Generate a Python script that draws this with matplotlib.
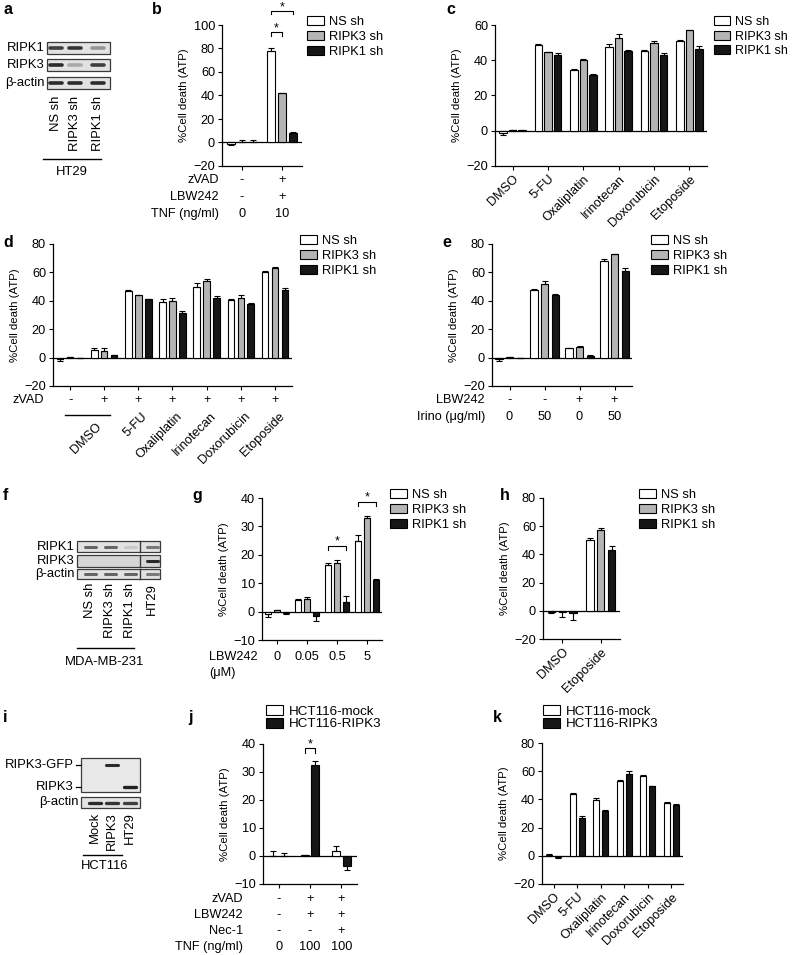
import numpy as np
import matplotlib
matplotlib.use('Agg')
import matplotlib.pyplot as plt
from matplotlib.patches import Patch, Rectangle
from matplotlib.transforms import blended_transform_factory as btf

# ---------------- data ----------------
sh_labels = ['NS sh', 'RIPK3 sh', 'RIPK1 sh']
hct_labels = ['HCT116-mock', 'HCT116-RIPK3']
drugs = ['DMSO', '5-FU', 'Oxaliplatin', 'Irinotecan', 'Doxorubicin', 'Etoposide']
d_drugs = ['5-FU', 'Oxaliplatin', 'Irinotecan', 'Doxorubicin', 'Etoposide']

# b: TNF 0 / 10
b_ns = [-1.0, 78.0]; b_ns_err = [1.0, 2.0]
b_r3 = [0.5, 42.0]; b_r3_err = [2.0, 0.5]
b_r1 = [0.5, 8.0]; b_r1_err = [1.5, 1.0]
b_zvad = ['-', '+']; b_lbw = ['-', '+']; b_tnf = ['0', '10']

# c
c_ns = [-1.0, 48.4, 34.2, 47.8, 45.0, 50.7]; c_ns_err = [1.5, 0.8, 0.8, 1.5, 0.8, 0.8]
c_r3 = [0.2, 44.4, 40.1, 52.6, 49.7, 56.9]; c_r3_err = [0.3, 0.5, 0.8, 2.5, 1.5, 0.5]
c_r1 = [0.2, 43.1, 31.8, 45.4, 43.1, 46.3]; c_r1_err = [0.3, 0.8, 0.5, 0.5, 1.0, 2.0]

# d
d_ns = [-1.0, 5.2, 47.0, 39.2, 50.0, 40.4, 60.3]; d_ns_err = [1.5, 1.5, 0.5, 2.0, 2.5, 0.8, 0.8]
d_r3 = [0.3, 4.7, 43.9, 39.7, 54.0, 42.3, 63.1]; d_r3_err = [0.3, 2.0, 0.5, 2.0, 1.5, 1.5, 0.8]
d_r1 = [0.0, 1.6, 41.0, 31.7, 42.3, 37.6, 47.4]; d_r1_err = [0.0, 0.5, 0.5, 0.8, 0.8, 0.5, 1.5]
d_zvad = ['-', '+', '+', '+', '+', '+', '+']

# e
e_ns = [-1.0, 47.4, 6.8, 67.8]; e_ns_err = [1.5, 0.8, 0.3, 1.5]
e_r3 = [0.3, 51.6, 7.5, 72.8]; e_r3_err = [0.3, 2.0, 0.8, 0.5]
e_r1 = [0.0, 44.4, 1.2, 60.8]; e_r1_err = [0.0, 0.5, 0.3, 2.0]
e_lbw = ['-', '-', '+', '+']; e_irino = ['0', '50', '0', '50']

# g
g_ns = [-0.8, 4.1, 16.5, 24.8]; g_ns_err = [1.0, 0.4, 0.5, 2.0]
g_r3 = [0.4, 4.3, 17.0, 33.1]; g_r3_err = [0.3, 0.8, 1.0, 0.5]
g_r1 = [-0.4, -1.5, 3.5, 11.1]; g_r1_err = [0.3, 1.8, 2.0, 0.3]
g_lbw = ['0', '0.05', '0.5', '5']

# h
h_ns = [-1.0, 50.1]; h_ns_err = [0.3, 1.5]
h_r3 = [-1.0, 57.4]; h_r3_err = [3.5, 1.5]
h_r1 = [-1.5, 43.1]; h_r1_err = [5.0, 3.0]
h_x = ['DMSO', 'Etoposide']

# j
j_mock = [0.0, 0.3, 1.9]; j_mock_err = [1.7, 0.2, 1.8]
j_rip3 = [0.0, 32.5, -3.6]; j_rip3_err = [0.9, 1.5, 1.5]
j_zvad = ['-', '+', '+']; j_lbw = ['-', '+', '+']; j_nec = ['-', '-', '+']; j_tnf = ['0', '100', '100']

# k
k_mock = [0.5, 44.0, 39.7, 52.7, 56.7, 37.4]; k_mock_err = [1.0, 0.8, 1.0, 0.8, 0.8, 1.0]
k_rip3 = [-1.0, 26.7, 31.9, 57.9, 49.2, 36.2]; k_rip3_err = [0.8, 1.5, 0.3, 2.0, 0.3, 0.5]

# western blot band intensities (0..1)
a_lanes = ['NS sh', 'RIPK3 sh', 'RIPK1 sh']
a_rows = ['RIPK1', 'RIPK3', 'β-actin']
a_int = [[0.8, 0.85, 0.35], [0.9, 0.25, 0.8], [0.9, 0.9, 0.9]]
f_lanes = ['NS sh', 'RIPK3 sh', 'RIPK1 sh', 'HT29']
f_rows = ['RIPK1', 'RIPK3', 'β-actin']
f_int = [[0.6, 0.6, 0.08, 0.5], [0.0, 0.0, 0.0, 0.9], [0.6, 0.6, 0.6, 0.5]]
i_lanes = ['Mock', 'RIPK3', 'HT29']
i_gfp = [0.0, 0.85, 0.0]
i_rip3 = [0.0, 0.0, 0.9]
i_actin = [0.9, 0.85, 0.8]

# ---------------- style ----------------
W, H = 794, 955
plt.rcParams['font.family'] = ['Liberation Sans', 'DejaVu Sans']
plt.rcParams['font.size'] = 9
FS = 9.2      # ticks / condition rows
FL = 9.3      # legend
FY = 8.2      # y label
FB = 9.4      # blot labels
WHITE, GRAY, BLACK = '#ffffff', '#b4b4b4', '#161616'
fig = plt.figure(figsize=(W / 100, H / 100), dpi=100)
ov = fig.add_axes([0, 0, 1, 1])
ov.set_xlim(0, W); ov.set_ylim(H, 0); ov.axis('off')


def make_ax(x0, y0, x1, y1, ylim, yticks, xlim):
    ax = fig.add_axes([x0 / W, 1 - y1 / H, (x1 - x0) / W, (y1 - y0) / H])
    ax.set_xlim(*xlim); ax.set_ylim(*ylim); ax.set_yticks(yticks)
    for s in ['top', 'right']:
        ax.spines[s].set_visible(False)
    for s in ['left', 'bottom']:
        ax.spines[s].set_linewidth(0.9)
    ax.axhline(0, color='k', lw=0.9, zorder=2)
    ax.tick_params(direction='out', length=3, width=0.8, labelsize=FS, pad=2)
    ax.patch.set_alpha(0)
    ax.set_ylabel('%Cell death (ATP)', fontsize=FY, labelpad=3)
    return ax


def bars(ax, vals, errs, colors, width, offsets):
    xs_all = []
    for v, e, c, o in zip(vals, errs, colors, offsets):
        x = np.arange(len(v)) + o
        ax.bar(x, v, width, color=c, edgecolor='k', lw=0.8, zorder=3)
        lo = [ee if vv < 0 else 0 for vv, ee in zip(v, e)]
        up = [ee if vv >= 0 else 0 for vv, ee in zip(v, e)]
        ax.errorbar(x, v, yerr=[lo, up], fmt='none', ecolor='k', elinewidth=0.8,
                    capsize=2, capthick=0.8, zorder=4)
        xs_all.append(x)
    ax.set_xticks(np.arange(len(vals[0])))
    return xs_all


def legend(labels, colors, x, y, spacing=0.2, fs=FL):
    hs = [Patch(facecolor=c, edgecolor='k', lw=0.8) for c in colors]
    fig.legend(hs, labels, loc='upper left', bbox_to_anchor=(x / W, 1 - y / H),
               frameon=False, fontsize=fs, handlelength=1.3, handleheight=0.75,
               handletextpad=0.4, labelspacing=spacing, borderpad=0, borderaxespad=0)


def rows(ax, labels, values, ys, xlab):
    tr = btf(ax.transData, ov.transData)
    for lab, vals, y in zip(labels, values, ys):
        ov.text(xlab, y, lab, ha='right', va='center', fontsize=FS)
        for i, v in enumerate(vals):
            ax.text(i, y, v, transform=tr, ha='center', va='center', fontsize=FS)


def bracket(ax, x1, x2, y, d):
    ax.plot([x1, x1, x2, x2], [y - d, y, y, y - d], color='k', lw=0.8, clip_on=False)
    ax.annotate('*', xy=((x1 + x2) / 2, y), xytext=(0, -1.5), textcoords='offset points',
                ha='center', va='bottom', fontsize=9, annotation_clip=False)


def panel_label(s, x, y):
    ov.text(x, y, s, fontsize=11.5, fontweight='bold', ha='left', va='center')


def blot_row(x0, x1, y0, y1, lane_x, ints, face='#e2e2e2', bw=12, bh=2.6, by=None):
    ov.add_patch(Rectangle((x0, y0), x1 - x0, y1 - y0, facecolor=face, edgecolor='#3a3a3a', lw=0.9))
    yc = (y0 + y1) / 2 if by is None else by
    for lx, it in zip(lane_x, ints):
        if it <= 0:
            continue
        g = 0.85 - 0.8 * it
        ov.plot([lx - bw / 2, lx + bw / 2], [yc, yc], color=(g, g, g), lw=bh,
                solid_capstyle='round', alpha=0.95)


# ---------------- panel a ----------------
panel_label('a', 3, 10)
a_lx = [56, 75, 98]
for r, (lab, it) in enumerate(zip(a_rows, a_int)):
    y0 = [42, 59, 77][r]
    blot_row(47, 110, y0, y0 + 12, a_lx, it)
    ov.text(45, y0 + 6, lab, ha='right', va='center', fontsize=FB)
for lx, lab in zip(a_lx, a_lanes):
    ov.text(lx, 96, lab, rotation=90, ha='center', va='top', fontsize=FB)
ov.plot([43, 101], [159, 159], color='k', lw=1.0)
ov.text(72, 172, 'HT29', ha='center', va='center', fontsize=FB)

# ---------------- panel b ----------------
panel_label('b', 152, 10)
axb = make_ax(222, 25, 302, 166, (-20, 100), [-20, 0, 20, 40, 60, 80, 100], (-0.5, 1.5))
xb = bars(axb, [b_ns, b_r3, b_r1], [b_ns_err, b_r3_err, b_r1_err], [WHITE, GRAY, BLACK], 0.2, [-0.275, 0, 0.275])
axb.set_xticklabels(['', ''])
rows(axb, ['zVAD', 'LBW242', 'TNF (ng/ml)'], [b_zvad, b_lbw, b_tnf], [180, 197, 214], 219)
bracket(axb, xb[0][1], xb[1][1], 94, 3)
bracket(axb, xb[0][1], xb[2][1], 112, 3)
legend(sh_labels, [WHITE, GRAY, BLACK], 307, 16)

# ---------------- panel c ----------------
panel_label('c', 446, 10)
axc = make_ax(495, 25, 707, 166, (-20, 60), [-20, 0, 20, 40, 60], (-0.5, 5.5))
bars(axc, [c_ns, c_r3, c_r1], [c_ns_err, c_r3_err, c_r1_err], [WHITE, GRAY, BLACK], 0.21, [-0.27, 0, 0.27])
axc.set_xticklabels(drugs, rotation=45, ha='right', va='top', rotation_mode='anchor')
legend(sh_labels, [WHITE, GRAY, BLACK], 714, 16, fs=9.0)

# ---------------- panel d ----------------
panel_label('d', 3, 242)
axd = make_ax(53, 244, 292, 386, (-20, 80), [-20, 0, 20, 40, 60, 80], (-0.5, 6.5))
bars(axd, [d_ns, d_r3, d_r1], [d_ns_err, d_r3_err, d_r1_err], [WHITE, GRAY, BLACK], 0.19, [-0.29, 0, 0.29])
axd.set_xticklabels([''] * 7)
rows(axd, ['zVAD'], [d_zvad], [400], 44)
ov.plot([65, 110], [415, 415], color='k', lw=1.0)
trd = btf(axd.transData, ov.transData)
axd.text(0.75, 421, 'DMSO', transform=trd, rotation=45, ha='right', va='top', rotation_mode='anchor', fontsize=FS)
for i, lab in enumerate(d_drugs):
    axd.text(i + 2.1, 410, lab, transform=trd, rotation=45, ha='right', va='top', rotation_mode='anchor', fontsize=FS)
legend(sh_labels, [WHITE, GRAY, BLACK], 300, 235)

# ---------------- panel e ----------------
panel_label('e', 442, 242)
axe = make_ax(492, 244, 632, 386, (-20, 80), [-20, 0, 20, 40, 60, 80], (-0.5, 3.5))
bars(axe, [e_ns, e_r3, e_r1], [e_ns_err, e_r3_err, e_r1_err], [WHITE, GRAY, BLACK], 0.22, [-0.31, 0, 0.31])
axe.set_xticklabels([''] * 4)
rows(axe, ['LBW242', 'Irino (μg/ml)'], [e_lbw, e_irino], [400, 417], 485)
legend(sh_labels, [WHITE, GRAY, BLACK], 651, 235)

# ---------------- panel f ----------------
panel_label('f', 3, 495)
f_lx = [90, 110, 130, 152]
for r, (lab, it) in enumerate(zip(f_rows, f_int)):
    y0, y1 = [(541, 552), (555, 567), (569, 579)][r]
    face = '#d6d6d6' if r == 1 else '#e2e2e2'
    blot_row(77, 160, y0, y1, f_lx, it, face=face, bw=11, bh=2.2)
    ov.plot([140, 140], [y0, y1], color='#3a3a3a', lw=1.0)
    ov.text(75, (y0 + y1) / 2, lab, ha='right', va='center', fontsize=FB)
for lx, lab in zip(f_lx, f_lanes):
    ov.text(lx, 583, lab, rotation=90, ha='center', va='top', fontsize=FB)
ov.plot([77, 134], [648, 648], color='k', lw=1.0)
ov.text(105, 662, 'MDA-MB-231', ha='center', va='center', fontsize=FB)

# ---------------- panel g ----------------
panel_label('g', 192, 495)
axg = make_ax(262, 498, 382, 640, (-10, 40), [-10, 0, 10, 20, 30, 40], (-0.5, 3.5))
xg = bars(axg, [g_ns, g_r3, g_r1], [g_ns_err, g_r3_err, g_r1_err], [WHITE, GRAY, BLACK], 0.2, [-0.3, 0, 0.3])
axg.set_xticklabels([''] * 4)
rows(axg, ['LBW242'], [g_lbw], [657], 258)
ov.text(222, 673, '(μM)', ha='center', va='center', fontsize=FS)
bracket(axg, xg[0][2], xg[2][2], 23.2, 1.5)
bracket(axg, xg[0][3], xg[2][3], 38.7, 1.5)
legend(sh_labels, [WHITE, GRAY, BLACK], 390, 489)

# ---------------- panel h ----------------
panel_label('h', 500, 495)
axh = make_ax(543, 498, 620, 639, (-20, 80), [-20, 0, 20, 40, 60, 80], (-0.5, 1.5))
bars(axh, [h_ns, h_r3, h_r1], [h_ns_err, h_r3_err, h_r1_err], [WHITE, GRAY, BLACK], 0.19, [-0.28, 0, 0.28])
axh.set_xticklabels(h_x, rotation=45, ha='right', va='top', rotation_mode='anchor')
legend(sh_labels, [WHITE, GRAY, BLACK], 639, 489)

# ---------------- panel i ----------------
panel_label('i', 3, 717)
i_lx = [95, 112, 130]
ov.add_patch(Rectangle((81, 758), 59, 34, facecolor='#e8e8e8', edgecolor='#3a3a3a', lw=0.9))
for lx, it in zip(i_lx, i_gfp):
    if it > 0:
        g = 0.85 - 0.8 * it
        ov.plot([lx - 6, lx + 6], [765, 765], color=(g, g, g), lw=2.2, solid_capstyle='round')
for lx, it in zip(i_lx, i_rip3):
    if it > 0:
        g = 0.85 - 0.8 * it
        ov.plot([lx - 6, lx + 6], [787, 787], color=(g, g, g), lw=2.4, solid_capstyle='round')
blot_row(81, 140, 797, 808, i_lx, i_actin, bw=12, bh=2.4)
ov.plot([76, 81], [765, 765], color='k', lw=0.9)
ov.plot([76, 81], [787, 787], color='k', lw=0.9)
ov.text(74, 765, 'RIPK3-GFP', ha='right', va='center', fontsize=FB)
ov.text(74, 787, 'RIPK3', ha='right', va='center', fontsize=FB)
ov.text(79, 802, 'β-actin', ha='right', va='center', fontsize=FB)
for lx, lab in zip(i_lx, i_lanes):
    ov.text(lx, 812, lab, rotation=90, ha='center', va='top', fontsize=FB)
ov.plot([83, 122], [855, 855], color='k', lw=1.0)
ov.text(105, 866, 'HCT116', ha='center', va='center', fontsize=FB)

# ---------------- panel j ----------------
panel_label('j', 188, 717)
axj = make_ax(263, 744, 357, 884, (-10, 40), [-10, 0, 10, 20, 30, 40], (-0.5, 2.5))
xj = bars(axj, [j_mock, j_rip3], [j_mock_err, j_rip3_err], [WHITE, BLACK], 0.25, [-0.17, 0.17])
axj.set_xticklabels([''] * 3)
rows(axj, ['zVAD', 'LBW242', 'Nec-1', 'TNF (ng/ml)'], [j_zvad, j_lbw, j_nec, j_tnf], [899, 915, 931, 947], 243)
bracket(axj, xj[0][1], xj[1][1], 38.6, 1.8)
legend(hct_labels, [WHITE, BLACK], 266, 705, spacing=0.02, fs=9.6)

# ---------------- panel k ----------------
panel_label('k', 493, 717)
axk = make_ax(542, 743, 683, 884, (-20, 80), [-20, 0, 20, 40, 60, 80], (-0.5, 5.5))
bars(axk, [k_mock, k_rip3], [k_mock_err, k_rip3_err], [WHITE, BLACK], 0.27, [-0.19, 0.19])
axk.set_xticklabels(drugs, rotation=45, ha='right', va='top', rotation_mode='anchor')
legend(hct_labels, [WHITE, BLACK], 543, 705, spacing=0.02, fs=9.6)

fig.savefig('out.png', dpi=100)
